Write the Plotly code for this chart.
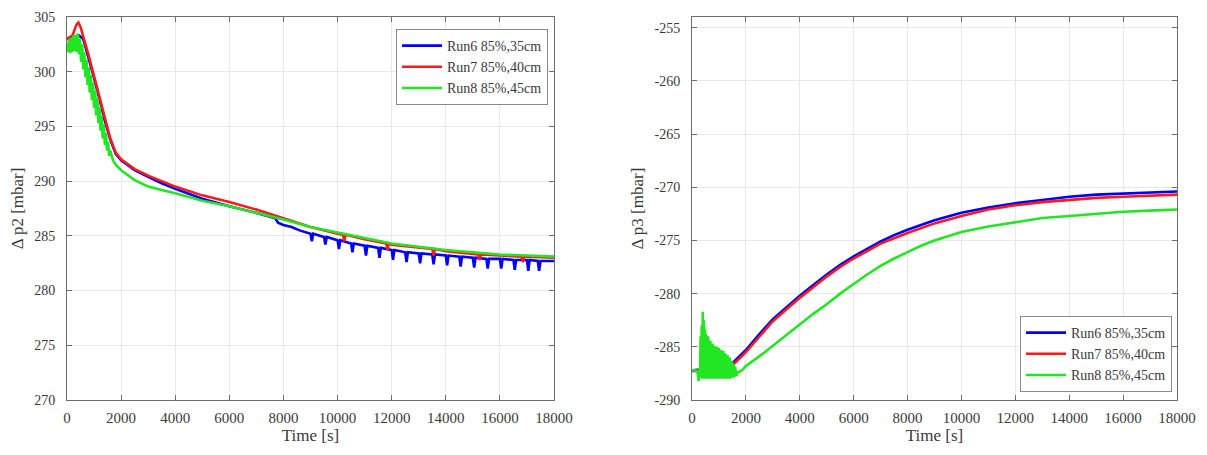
import plotly.graph_objects as go
from plotly.subplots import make_subplots

# ---------------- data: left panel (Δ p2) ----------------
run6_p2_t = [0, 200, 300, 450, 600, 800, 1000, 1200, 1400, 1600, 1800, 2000, 2500, 3000, 3500,
             4000, 5000, 6000, 7000, 7700, 7800, 8000, 8300, 8600,
             9000, 9050, 9100, 9500, 9550, 9600, 10000, 10050, 10100, 10500, 10550, 10600,
             11000, 11050, 11100, 11500, 11550, 11600, 12000, 12050, 12100, 12500, 12550, 12600,
             13000, 13050, 13100, 13500, 13550, 13600, 14000, 14050, 14100, 14500, 14550, 14600,
             15000, 15050, 15100, 15500, 15550, 15600, 16000, 16050, 16100, 16500, 16550, 16600,
             17000, 17050, 17100, 17400, 17450, 17500, 18000]
run6_p2_v = [303.0, 303.0, 303.1, 303.3, 303.0, 301.3, 299.4, 297.5, 295.5, 293.8, 292.5, 291.9, 291.0, 290.4, 289.8,
             289.3, 288.4, 287.7, 287.1, 286.6, 286.2, 286.0, 285.8, 285.5,
             285.2, 284.5, 285.2, 284.9, 284.2, 284.9, 284.6, 283.8, 284.6, 284.3, 283.5, 284.3,
             284.1, 283.2, 284.1, 283.9, 283.0, 283.9, 283.7, 282.8, 283.7, 283.5, 282.6, 283.5,
             283.4, 282.5, 283.4, 283.3, 282.4, 283.3, 283.2, 282.3, 283.2, 283.1, 282.2, 283.1,
             283.0, 282.1, 283.0, 282.9, 282.0, 282.9, 282.9, 282.0, 282.9, 282.8, 281.9, 282.8,
             282.8, 281.8, 282.8, 282.7, 281.8, 282.7, 282.7]

run7_p2_t = [0, 200, 350, 420, 500, 600, 800, 1000, 1200, 1400, 1600, 1800, 2000, 2500, 3000, 4000,
             5000, 6000, 7000, 8000, 9000, 10000, 10200, 10250, 10300, 11000, 11800, 11850, 11900,
             12000, 13000, 13500, 13550, 13600, 14000, 15000, 15200, 15250, 15300, 16000, 16800, 16850, 16900,
             17000, 18000]
run7_p2_v = [303.0, 303.3, 304.3, 304.5, 304.1, 303.3, 301.5, 299.6, 297.7, 295.7, 293.9, 292.6, 292.0, 291.1, 290.5, 289.5,
             288.7, 288.1, 287.4, 286.6, 285.8, 285.2, 285.1, 284.5, 285.1, 284.7, 284.3, 283.7, 284.3,
             284.2, 283.9, 283.8, 283.2, 283.8, 283.6, 283.4, 283.3, 282.8, 283.3, 283.2, 283.1, 282.6, 283.1,
             283.1, 283.0]

run8_p2_t = [0, 40, 80, 120, 160, 200, 240, 280, 320, 360, 400, 440, 480, 520, 560, 600, 640, 680, 720,
             760, 800, 840, 880, 920, 960, 1000, 1040, 1080, 1120, 1160, 1200, 1240, 1280, 1320, 1360,
             1400, 1440, 1480, 1520, 1560, 1600, 1700, 1800,
             2000, 2500, 3000, 3500, 4000, 5000, 6000, 7000, 8000, 9000, 10000, 11000, 12000, 13000,
             14000, 15000, 16000, 17000, 18000]
run8_p2_v = [302.6, 301.8, 303.0, 301.7, 303.1, 301.8, 303.3, 301.9, 303.4, 301.8, 303.5, 301.6, 303.0, 300.9, 302.5, 300.2, 301.8, 299.5, 301.1,
             298.8, 300.4, 298.1, 299.7, 297.4, 299.0, 296.7, 298.3, 296.0, 297.6, 295.3, 296.8, 294.6, 296.0, 293.9, 295.2,
             293.3, 294.4, 292.8, 293.6, 292.3, 292.8, 291.9, 291.5,
             291.0, 290.1, 289.5, 289.2, 288.9, 288.2, 287.7, 287.1, 286.5, 285.8, 285.3, 284.8, 284.3, 284.0,
             283.7, 283.5, 283.3, 283.2, 283.1]

# ---------------- data: right panel (Δ p3) ----------------
run6_p3_t = [0, 500, 1000, 1400, 1600, 2000, 2500, 3000, 3500, 4000, 4500, 5000, 5500, 6000, 6500, 7000, 7500,
             8000, 9000, 10000, 11000, 12000, 13000, 14000, 15000, 16000, 17000, 18000]
run6_p3_v = [-287.2, -287.1, -287.0, -286.8, -286.3, -285.3, -283.8, -282.4, -281.3, -280.2, -279.2, -278.2, -277.3, -276.5, -275.8, -275.1, -274.5,
             -274.0, -273.1, -272.4, -271.9, -271.5, -271.2, -270.9, -270.7, -270.6, -270.5, -270.4]

run7_p3_t = [0, 500, 1000, 1400, 1600, 2000, 2500, 3000, 3500, 4000, 4500, 5000, 5500, 6000, 6500, 7000, 7500,
             8000, 9000, 10000, 11000, 12000, 13000, 14000, 15000, 16000, 17000, 18000]
run7_p3_v = [-287.3, -287.2, -287.1, -286.9, -286.5, -285.5, -284.0, -282.6, -281.5, -280.4, -279.4, -278.4, -277.5, -276.7, -276.0, -275.3, -274.8,
             -274.3, -273.4, -272.7, -272.1, -271.7, -271.4, -271.2, -271.0, -270.9, -270.8, -270.7]

run8_p3_t = [0, 100, 200, 250, 280, 300, 320, 340, 360, 380, 400, 420, 440, 460, 480, 500, 520, 540, 560, 580,
             600, 620, 640, 660, 680, 700, 720, 740, 760, 780, 800, 820, 840, 860, 880, 900, 920, 940,
             960, 980, 1000, 1020, 1040, 1060, 1080, 1100, 1120, 1140, 1160, 1180, 1200, 1220, 1240, 1260,
             1280, 1300, 1320, 1340, 1360, 1380, 1400, 1420, 1440, 1460, 1480, 1500, 1520, 1540, 1560, 1580,
             1600, 1650, 1700, 1800, 1900,
             2000, 2500, 3000, 3500, 4000, 4500, 5000, 5500, 6000, 6500, 7000, 7500, 8000, 8500, 9000,
             10000, 11000, 12000, 13000, 14000, 15000, 16000, 17000, 18000]
run8_p3_v = [-287.2, -287.2, -287.3, -288.2, -287.0, -287.6, -284.0, -287.9, -283.0, -288.0, -281.7, -287.9, -282.5, -288.0, -283.3, -287.9, -283.8, -288.0, -284.2, -287.9,
             -284.0, -288.0, -284.6, -287.9, -284.4, -288.0, -284.9, -287.9, -284.7, -288.0, -285.1, -287.9, -284.9, -288.0, -285.2, -287.9, -285.0, -288.0,
             -285.3, -287.9, -285.1, -288.0, -285.4, -287.9, -285.3, -288.0, -285.6, -287.9, -285.4, -288.0, -285.7, -287.9, -285.6, -288.0,
             -285.9, -287.9, -285.8, -288.0, -286.1, -287.9, -286.0, -288.0, -286.3, -287.9, -286.4, -287.9, -286.6, -287.9, -286.7, -287.8,
             -286.9, -287.7, -287.4, -287.3, -287.1,
             -286.8, -285.9, -284.9, -283.9, -282.9, -281.9, -281.0, -280.0, -279.1, -278.2, -277.4, -276.7, -276.1, -275.5, -275.0,
             -274.2, -273.7, -273.3, -272.9, -272.7, -272.5, -272.3, -272.2, -272.1]

series_names = ["Run6 85%,35cm", "Run7 85%,40cm", "Run8 85%,45cm"]
series_colors = ["#0000ff", "#ff1a1a", "#22e622"]

x_ticks = [0, 2000, 4000, 6000, 8000, 10000, 12000, 14000, 16000, 18000]
x_ticktext = ["0", "2000", "4000", "6000", "8000", "10000", "12000", "14000", "16000", "18000"]
y2_ticks = [270, 275, 280, 285, 290, 295, 300, 305]
y3_ticks = [-290, -285, -280, -275, -270, -265, -260, -255]
y3_ticktext = ["-290", "-285", "-280", "-275", "-270", "-265", "-260", "-255"]

# ---------------- figure ----------------
fig = make_subplots(rows=1, cols=2)

left = [(run6_p2_t, run6_p2_v), (run7_p2_t, run7_p2_v), (run8_p2_t, run8_p2_v)]
right = [(run6_p3_t, run6_p3_v), (run7_p3_t, run7_p3_v), (run8_p3_t, run8_p3_v)]

for i, (t, v) in enumerate(left):
    fig.add_trace(go.Scatter(x=t, y=v, mode="lines", name=series_names[i],
                             line=dict(color=series_colors[i], width=2.6),
                             legend="legend"), row=1, col=1)
for i, (t, v) in enumerate(right):
    fig.add_trace(go.Scatter(x=t, y=v, mode="lines", name=series_names[i],
                             line=dict(color=series_colors[i], width=2.6),
                             legend="legend2"), row=1, col=2)

font_family = "Liberation Serif"
txt = "#3a3a3a"
axis_common = dict(showline=True, linecolor="#6e6e6e", linewidth=1, mirror="ticks",
                   ticks="inside", ticklen=5, tickcolor="#6e6e6e",
                   showgrid=True, gridcolor="#e8e8e8", gridwidth=1, zeroline=False,
                   automargin=False)
xfont = dict(family=font_family, size=15, color=txt)
yfont = dict(family=font_family, size=14, color=txt)
tfont = dict(family=font_family, size=17, color=txt)

ydom = [(455 - 400) / 455, (455 - 17) / 455]

fig.update_layout(
    width=1207, height=455,
    margin=dict(l=0, r=0, t=0, b=0),
    paper_bgcolor="white", plot_bgcolor="white",
    font=dict(family=font_family, color=txt),
    xaxis=dict(domain=[67 / 1207, 554 / 1207], range=[0, 18000], tickvals=x_ticks, ticktext=x_ticktext,
               tickfont=xfont, ticklabelstandoff=4,
               title=dict(text="Time [s]", font=tfont, standoff=2), **axis_common),
    yaxis=dict(domain=ydom, range=[270, 305], tickvals=y2_ticks, tickfont=yfont, ticklabelstandoff=8,
               title=dict(text="Δ p2 [mbar]", font=tfont, standoff=6), **axis_common),
    xaxis2=dict(domain=[692 / 1207, 1177 / 1207], range=[0, 18000], tickvals=x_ticks, ticktext=x_ticktext,
                tickfont=xfont, ticklabelstandoff=4,
                title=dict(text="Time [s]", font=tfont, standoff=2), **axis_common),
    yaxis2=dict(domain=ydom, range=[-290, -254], tickvals=y3_ticks, ticktext=y3_ticktext,
                tickfont=yfont, ticklabelstandoff=8,
                title=dict(text="Δ p3 [mbar]", font=tfont, standoff=6), **axis_common),
    legend=dict(x=548 / 1207, xanchor="right", y=1 - 29 / 455, yanchor="top",
                bgcolor="white", bordercolor="#8a8a8a", borderwidth=1,
                font=dict(family=font_family, size=14, color=txt),
                tracegroupgap=0, itemwidth=40),
    legend2=dict(x=1172 / 1207, xanchor="right", y=(455 - 392) / 455, yanchor="bottom",
                 bgcolor="white", bordercolor="#8a8a8a", borderwidth=1,
                 font=dict(family=font_family, size=14, color=txt),
                 tracegroupgap=0, itemwidth=40),
)

fig.write_html("out.html")
